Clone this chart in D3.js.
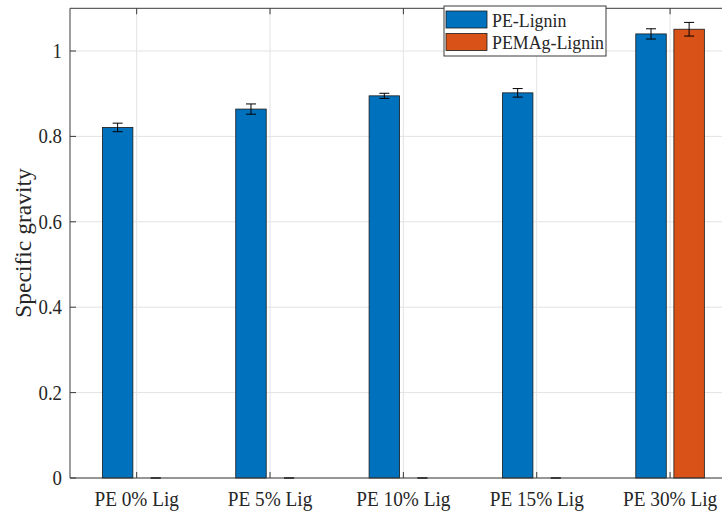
<!DOCTYPE html>
<html>
<head>
<meta charset="utf-8">
<script src="https://cdn.jsdelivr.net/npm/d3@7"></script>
<style>
  html, body { margin: 0; padding: 0; background: #fff; }
  svg { display: block; }
  text { font-family: "Liberation Serif", "Times New Roman", serif; fill: #262626; }
</style>
</head>
<body>
<svg id="chart" width="722" height="513"></svg>
<script>
// Specific gravity of PE / PEMAg blends at different lignin loadings
const categories = ["PE 0% Lig", "PE 5% Lig", "PE 10% Lig", "PE 15% Lig", "PE 30% Lig"];
const seriesNames = ["PE-Lignin", "PEMAg-Lignin"];
const peLignin = [0.821, 0.864, 0.895, 0.902, 1.040];
const peLigninErr = [0.010, 0.012, 0.006, 0.010, 0.012];
const pemagLignin = [0, 0, 0, 0, 1.051];
const pemagLigninErr = [0, 0, 0, 0, 0.016];
const yTicks = [0, 0.2, 0.4, 0.6, 0.8, 1];
const colors = ["#0072BD", "#D95319"];

const svg = d3.select("#chart");
const plotLeft = 70, plotTop = 8.3, plotBottom = 478;
const x = d3.scaleLinear().domain([0.5, 5.5]).range([plotLeft, plotLeft + 5 * 133.35]);
const y = d3.scaleLinear().domain([0, 1.1]).range([plotBottom, plotTop]);

// grouped-bar geometry (two series per category)
const groupWidth = Math.min(0.8, 2 / (2 + 1.5));
const barW = 0.8 * groupWidth / 2;
const offsets = [-groupWidth / 4, groupWidth / 4];

// the serif face is drawn slightly condensed
const squeeze = 0.94;
const place = (px, py) => `translate(${px},${py}) scale(${squeeze},1)`;

const series = [
  { name: seriesNames[0], values: peLignin, errs: peLigninErr },
  { name: seriesNames[1], values: pemagLignin, errs: pemagLigninErr }
];

const rightEdge = 722;

// grid
const grid = svg.append("g");
grid.selectAll("line.gy").data(yTicks).join("line")
  .attr("x1", plotLeft).attr("x2", rightEdge)
  .attr("y1", d => y(d)).attr("y2", d => y(d))
  .attr("stroke", "#e3e3e3").attr("stroke-width", 1);
grid.selectAll("line.gx").data(categories).join("line")
  .attr("x1", (d, i) => x(i + 1)).attr("x2", (d, i) => x(i + 1))
  .attr("y1", plotTop).attr("y2", plotBottom)
  .attr("stroke", "#e3e3e3").attr("stroke-width", 1);

// bars
series.forEach((s, si) => {
  const g = svg.append("g");
  g.selectAll("rect").data(s.values).join("rect")
    .attr("x", (d, i) => x(i + 1 + offsets[si] - barW / 2))
    .attr("width", x(barW) - x(0))
    .attr("y", d => y(d))
    .attr("height", d => y(0) - y(d))
    .attr("fill", colors[si])
    .attr("stroke", "#1a1a1a").attr("stroke-width", 0.8);
});

// error bars
series.forEach((s, si) => {
  const g = svg.append("g").attr("stroke", "#000").attr("stroke-width", 1);
  s.values.forEach((v, i) => {
    const cx = x(i + 1 + offsets[si]);
    const e = s.errs[i];
    g.append("line").attr("x1", cx).attr("x2", cx).attr("y1", y(v - e)).attr("y2", y(v + e));
    [v - e, v + e].forEach(t => {
      g.append("line").attr("x1", cx - 5).attr("x2", cx + 5).attr("y1", y(t)).attr("y2", y(t));
    });
  });
});

// axes box + inward ticks
const axisColor = "#3a3a3a";
const ax = svg.append("g").attr("stroke", axisColor).attr("stroke-width", 1);
ax.append("line").attr("x1", plotLeft).attr("x2", plotLeft).attr("y1", plotTop).attr("y2", plotBottom);
ax.append("line").attr("x1", plotLeft).attr("x2", rightEdge).attr("y1", plotTop).attr("y2", plotTop);
ax.append("line").attr("x1", plotLeft).attr("x2", rightEdge).attr("y1", plotBottom).attr("y2", plotBottom);
yTicks.forEach(t => {
  ax.append("line").attr("x1", plotLeft).attr("x2", plotLeft + 6).attr("y1", y(t)).attr("y2", y(t));
});
categories.forEach((c, i) => {
  ax.append("line").attr("x1", x(i + 1)).attr("x2", x(i + 1)).attr("y1", plotBottom).attr("y2", plotBottom - 6);
  ax.append("line").attr("x1", x(i + 1)).attr("x2", x(i + 1)).attr("y1", plotTop).attr("y2", plotTop + 6);
});

// tick labels
svg.append("g").selectAll("text").data(yTicks).join("text")
  .attr("transform", d => place(plotLeft - 8, y(d) + 7))
  .attr("text-anchor", "end").attr("font-size", 20)
  .text(d => d3.format("~g")(d));
svg.append("g").selectAll("text").data(categories).join("text")
  .attr("transform", (d, i) => place(x(i + 1), 506))
  .attr("text-anchor", "middle").attr("font-size", 20.5)
  .text(d => d);

// y label
svg.append("text")
  .attr("transform", `translate(31,243) rotate(-90) scale(1,${squeeze})`)
  .attr("text-anchor", "middle").attr("font-size", 23.5)
  .text("Specific gravity");

// legend
const lg = svg.append("g");
lg.append("rect").attr("x", 444).attr("y", 6).attr("width", 162).attr("height", 50)
  .attr("fill", "#fff").attr("stroke", "#3a3a3a").attr("stroke-width", 1);
seriesNames.forEach((n, i) => {
  lg.append("rect").attr("x", 446).attr("y", 11 + i * 22.5).attr("width", 41).attr("height", 17)
    .attr("fill", colors[i]).attr("stroke", "#1a1a1a").attr("stroke-width", 0.8);
  lg.append("text").attr("transform", place(492, 26.5 + i * 22.5)).attr("font-size", 19).text(n);
});
</script>
</body>
</html>
